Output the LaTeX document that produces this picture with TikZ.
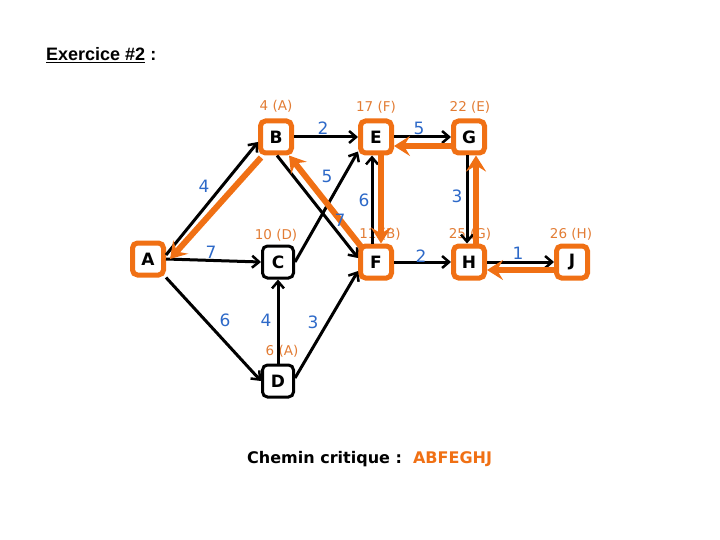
\documentclass[tikz,border=0pt]{standalone}
\usepackage{fontspec}
\setmainfont{DejaVu Sans}
\newfontfamily\arialfont{Liberation Sans}
\usetikzlibrary{arrows.meta}
\definecolor{cporange}{RGB}{240,112,20}
\definecolor{lblorange}{RGB}{226,124,52}
\definecolor{wblue}{RGB}{45,105,200}
\tikzset{
  task/.style={draw=black, line width=3pt, rounded corners=5pt, fill=white,
    minimum width=31pt, minimum height=32pt, inner sep=0pt,
    font=\fontsize{17}{17}\selectfont\bfseries},
  crit/.style={task, draw=cporange, line width=5pt},
  lbl/.style={text=lblorange, font=\fontsize{13.5}{14}\selectfont, inner sep=0pt},
  wt/.style={text=wblue, font=\fontsize{17}{17}\selectfont, inner sep=0pt},
  arr/.style={line width=3pt, -{Straight Barb[length=7pt,width=12pt,line width=2.5pt]}},
  carr/.style={line width=6pt, draw=cporange, -{Stealth[length=16pt,width=20pt,inset=6pt]}},
}
\begin{document}
\begin{tikzpicture}[x=1pt,y=-1pt]
\useasboundingbox (0,0) rectangle (720,540);
% title
\node[anchor=base west, inner sep=0pt, font=\arialfont\fontsize{18}{18}\selectfont\bfseries] (title) at (46,61) {\underline{Exercice \#2}\ :};
% nodes
\node[crit] (A) at (148,259) {A};
\node[crit] (B) at (276,137) {B};
\node[task] (C) at (278,262) {C};
\node[task] (D) at (278,381) {D};
\node[crit] (E) at (376,137) {E};
\node[crit] (F) at (376,262) {F};
\node[crit] (G) at (469,137) {G};
\node[crit] (H) at (469,262) {H};
\node[crit] (J) at (572,262) {J};
% early start labels
\node[lbl] (lB) at (276,106) {4 (A)};
\node[lbl] (lE) at (376,107) {17 (F)};
\node[lbl] (lG) at (470,107) {22 (E)};
\node[lbl] (lC) at (276,235) {10 (D)};
\node[lbl] (lF) at (380,234) {11 (B)};
\node[lbl] (lH) at (470,234) {25 (G)};
\node[lbl] (lJ) at (571,234) {26 (H)};
\node[lbl] (lD) at (282,351) {6 (A)};
% black connectors
\draw[arr] ([yshift=4pt]A.east) -- ([yshift=-5pt]B.west);
\draw[arr] (A.east) -- (C.west);
\draw[arr] (A.south east) -- (D.west);
\draw[arr] (B.east) -- (E.west);
\draw[arr] ([xshift=1pt]B.south) -- ([yshift=4pt]F.west);
\draw[arr] (C.east) -- ([yshift=4pt]E.south west);
\draw[arr] (D.north) -- (C.south);
\draw[arr] ([yshift=3pt]D.east) -- ([yshift=-9pt]F.west);
\draw[arr] ([xshift=-4pt]F.north) -- ([xshift=-4pt]E.south);
\draw[arr] (E.east) -- (G.west);
\draw[arr] ([xshift=-2pt]G.south) -- ([xshift=-2pt]H.north);
\draw[arr] (F.east) -- (H.west);
\draw[arr] (H.east) -- (J.west);
% critical path (orange)
\draw[carr] ([shift={(3pt,-2pt)}]B.south west) -- ([xshift=4pt]A.east);
\draw[carr] ([shift={(3pt,-3pt)}]F.north west) -- ([xshift=-5pt]B.south east);
\draw[carr] ([xshift=5pt]E.south) -- ([xshift=5pt]F.north);
\draw[carr] ([yshift=-9pt]G.west) -- ([yshift=-9pt]E.east);
\draw[carr] ([xshift=7pt]H.north) -- ([xshift=7pt]G.south);
\draw[carr] ([yshift=-8pt]J.west) -- ([yshift=-8pt]H.east);
% weights
\node[wt] (w1) at (204,186) {4};
\node[wt] (w2) at (211,252) {7};
\node[wt] (w3) at (225,320) {6};
\node[wt] (w4) at (323,128) {2};
\node[wt] (w5) at (327,176) {5};
\node[wt] (w6) at (340,220) {7};
\node[wt] (w7) at (364,200) {6};
\node[wt] (w8) at (419,128) {5};
\node[wt] (w9) at (457,196) {3};
\node[wt] (w10) at (421,256) {2};
\node[wt] (w11) at (518,253) {1};
\node[wt] (w12) at (266,320) {4};
\node[wt] (w13) at (313,322) {3};
% critical path text
\node[anchor=base west, inner sep=0pt, font=\fontsize{16}{16}\selectfont\bfseries] (cc) at (247,463) {Chemin critique :~~\textcolor{cporange}{ABFEGHJ}};
\end{tikzpicture}
\end{document}
